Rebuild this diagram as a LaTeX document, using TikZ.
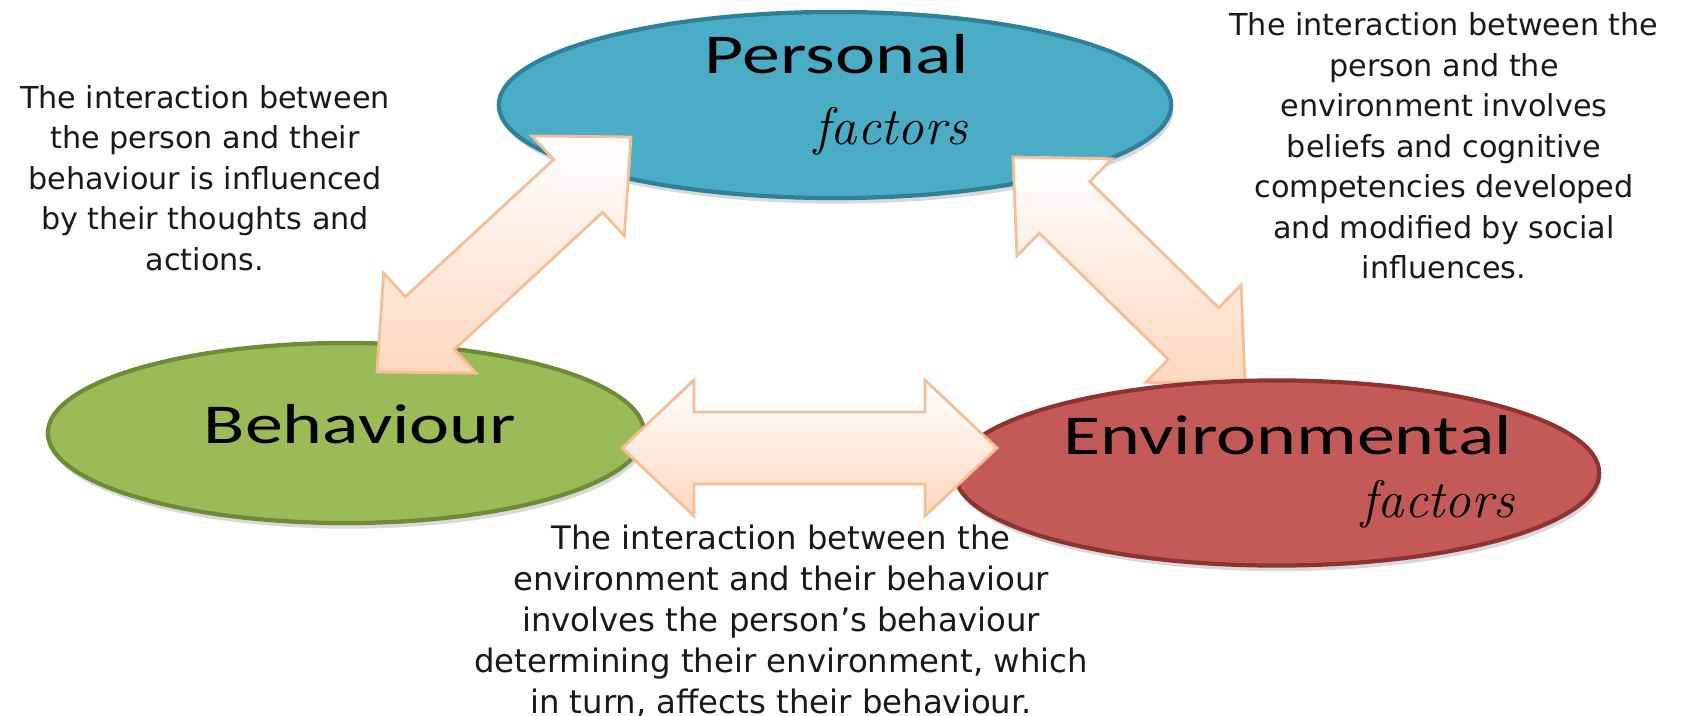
\documentclass[tikz,border=0pt]{standalone}
\usepackage{fontspec}
\usetikzlibrary{shapes.geometric,calc,shadows}
\newfontfamily\ovalfont[FakeStretch=1.35]{Carlito}
\newfontfamily\notefont{DejaVu Sans}

\definecolor{persblue}{HTML}{4BACC6}
\definecolor{persedge}{HTML}{2F8099}
\definecolor{behavgreen}{HTML}{9BBB59}
\definecolor{behavedge}{HTML}{6E8B37}
\definecolor{envirred}{HTML}{C45A58}
\definecolor{enviredge}{HTML}{8E3331}
\definecolor{arrowfill}{HTML}{FCD8BE}
\definecolor{arrowedge}{HTML}{F7BE95}

\newcommand{\headlen}{0.72cm}
\newcommand{\headhalf}{0.68cm}
\newcommand{\shafthalf}{0.36cm}

% block double arrow between two named points
\newcommand{\fatarrow}[2]{%
  \path ($(#1)!\headlen!(#2)$) coordinate (fa-s)
        ($(#2)!\headlen!(#1)$) coordinate (fa-e);
  \shadedraw[twoway] (#1)
    -- ($(fa-s)!\headhalf!90:(#2)$) -- ($(fa-s)!\shafthalf!90:(#2)$)
    -- ($(fa-e)!\shafthalf!-90:(#1)$) -- ($(fa-e)!\headhalf!-90:(#1)$)
    -- (#2)
    -- ($(fa-e)!\headhalf!90:(#1)$) -- ($(fa-e)!\shafthalf!90:(#1)$)
    -- ($(fa-s)!\shafthalf!-90:(#2)$) -- ($(fa-s)!\headhalf!-90:(#2)$)
    -- cycle;}

\begin{document}
\begin{tikzpicture}[x=0.01cm,y=-0.01cm,
    oval/.style={ellipse,inner sep=0pt,line width=1.2pt,
      drop shadow={opacity=0.3,shadow xshift=0.6pt,shadow yshift=-1.6pt}},
    ovaltext/.style={font=\ovalfont\fontsize{16}{19}\selectfont},
    factortext/.style={font=\itshape\fontsize{15}{18}\selectfont},
    note/.style={font=\notefont\fontsize{8.6}{11.5}\selectfont,align=center,text=black!90},
    twoway/.style={top color=white,bottom color=arrowfill,draw=arrowedge,line width=0.8pt,line join=miter}]

    \useasboundingbox (0,0) rectangle (1683,716);

    % ovals
    \node[oval,fill=persblue,draw=persedge,minimum width=6.72cm,minimum height=1.86cm] (pers) at (835,105) {};
    \node[oval,fill=behavgreen,draw=behavedge,minimum width=5.96cm,minimum height=1.80cm] (behav) at (346,433) {};

    % arrow ends
    \coordinate (pb1) at (377,372);
    \coordinate (pb2) at (631,137);
    \coordinate (pe1) at (1013,157);
    \coordinate (pe2) at (1245,384);
    \coordinate (be1) at (622,448);
    \coordinate (be2) at (997,448);

    % arrows
    \fatarrow{pb1}{pb2}
    \fatarrow{pe1}{pe2}

    \node[oval,fill=envirred,draw=enviredge,minimum width=6.44cm,minimum height=1.85cm] (envir) at (1277,473) {};

    \fatarrow{be1}{be2}

    % oval labels
    \node[ovaltext] (perslabel) at (837,54) {Personal};
    \node[factortext] (persfactors) at (891,131) {factors};
    \node[ovaltext] (behavlabel) at (360,424) {Behaviour};
    \node[ovaltext] (envirlabel) at (1288,435) {Environmental};
    \node[factortext] (envirfactors) at (1438,504) {factors};

    % notes
    \node[note] (noteleft) at (205,178) {The interaction between\\the person and their\\behaviour is influenced\\by their thoughts and\\actions.};
    \node[note] (noteright) at (1444,146) {The interaction between the\\person and the\\environment involves\\beliefs and cognitive\\competencies developed\\and modified by social\\influences.};
    \node[note,font=\notefont\fontsize{9.2}{11.6}\selectfont] (notebottom) at (781,621) {The interaction between the\\environment and their behaviour\\involves the person’s behaviour\\determining their environment, which\\in turn, affects their behaviour.};

\end{tikzpicture}
\end{document}
